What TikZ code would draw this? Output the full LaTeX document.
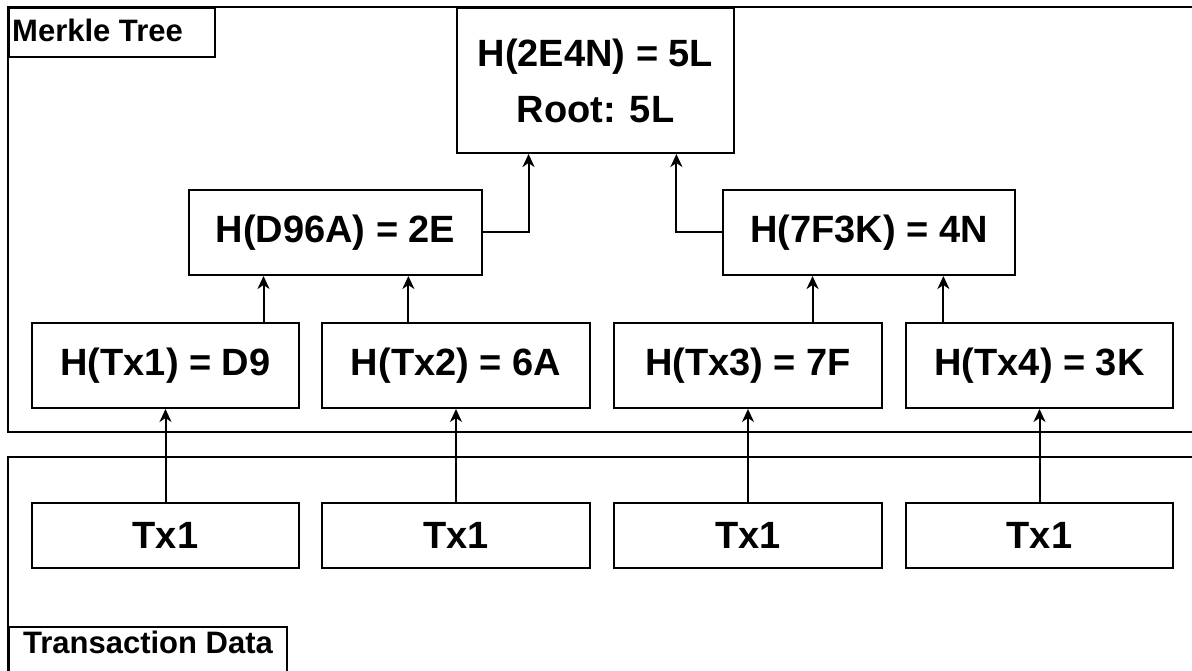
\documentclass[tikz,border=0pt]{standalone}
\usepackage{fontspec}
\setmainfont{Liberation Sans}
\usetikzlibrary{arrows.meta,calc}
\begin{document}
\begin{tikzpicture}[x=1pt,y=-1pt,
  every node/.style={inner sep=0pt},
  hbox/.style={draw, line width=2pt, minimum width=#1, minimum height=85pt,
    font=\fontsize{38}{45}\selectfont\bfseries},
  txbox/.style={draw, line width=2pt, minimum width=#1, minimum height=65pt,
    font=\fontsize{38}{45}\selectfont\bfseries},
  frame/.style={draw, line width=2pt},
  lbl/.style={font=\fontsize{31}{36}\selectfont\bfseries},
  arr/.style={line width=2pt, -{Stealth[length=13pt,width=12pt,inset=4pt]}},
  link/.style={line width=2pt}]
\useasboundingbox (0,0) rectangle (1192,671);
\clip (0,0) rectangle (1192,671);
\fill[white] (0,0) rectangle (1192,671);

% frames
\draw[frame] (8,7) rectangle (1210,432);
\draw[frame] (8,457) rectangle (1210,700);
\node[frame, minimum width=206pt, minimum height=49pt, anchor=north west] (mtbox) at (8,7) {};
\node[lbl, anchor=base west] (mttext) at (12,42) {Merkle Tree};
\node[frame, minimum width=278pt, minimum height=70pt, anchor=north west] (tdbox) at (8,626) {};
\node[lbl, anchor=base] (tdtext) at (148,653) {Transaction Data};

% root
\node[draw, line width=2pt, minimum width=277pt, minimum height=145pt, align=center,
  font=\fontsize{38}{56}\selectfont\bfseries] (root) at (595.5,80.5) {H(2E4N) = 5L\\Root: 5L};

% level 1
\node[hbox=293pt] (d96) at (335.5,232.5) {H(D96A) = 2E};
\node[hbox=292pt] (f3k) at (869,232.5) {H(7F3K) = 4N};

% leaves
\node[hbox=267pt] (l1) at (165.5,365.5) {H(Tx1) = D9};
\node[hbox=268pt] (l2) at (456,365.5) {H(Tx2) = 6A};
\node[hbox=268pt] (l3) at (748,365.5) {H(Tx3) = 7F};
\node[hbox=267pt] (l4) at (1039.5,365.5) {H(Tx4) = 3K};

% transactions
\node[txbox=267pt] (t1) at (165.5,535.5) {Tx1};
\node[txbox=268pt] (t2) at (456,535.5) {Tx1};
\node[txbox=268pt] (t3) at (748,535.5) {Tx1};
\node[txbox=267pt] (t4) at (1039.5,535.5) {Tx1};

% connectors tx -> leaves
\foreach \i in {1,2,3,4} {\draw[arr] (t\i.north) -- (l\i.south);}

% leaves -> level 1
\coordinate (a1) at ($(d96.south west)!0.256!(d96.south east)$);
\coordinate (a2) at ($(d96.south west)!0.747!(d96.south east)$);
\coordinate (b1) at ($(f3k.south west)!0.308!(f3k.south east)$);
\coordinate (b2) at ($(f3k.south west)!0.753!(f3k.south east)$);
\draw[arr] (a1 |- l1.north) -- (a1);
\draw[arr] (a2 |- l2.north) -- (a2);
\draw[arr] (b1 |- l3.north) -- (b1);
\draw[arr] (b2 |- l4.north) -- (b2);

% level 1 -> root
\coordinate (r1) at ($(root.south west)!0.26!(root.south east)$);
\coordinate (r2) at ($(root.south west)!0.79!(root.south east)$);
\draw[arr] (d96.east) -| (r1);
\draw[arr] (f3k.west) -| (r2);
\end{tikzpicture}
\end{document}
